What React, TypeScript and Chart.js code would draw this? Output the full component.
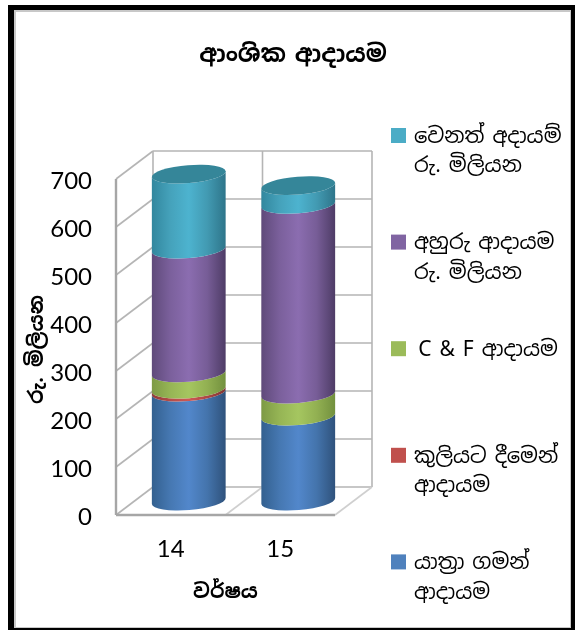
import React, { useEffect, useRef } from "react";
import { Chart, registerables } from "chart.js";

Chart.register(...registerables);

const chartTitle = "ආංශික ආදායම";
const yAxisTitle = "රු. මිලියන";
const xAxisTitle = "වර්ෂය";
const categories = ["14", "15"];
const travelIncome = [227, 177];
const hireIncome = [6, 0];
const cfIncome = [34, 46];
const bunkerIncome = [258, 395];
const otherIncome = [156, 39];
const travelLabel = ["යාත්‍රා ගමන්", "ආදායම"];
const hireLabel = ["කුලියට දීමෙන්", "ආදායම"];
const cfLabel = ["\u2009C & F ආදායම"];
const bunkerLabel = ["අහුරු ආදායම", "රු. මිලියන"];
const otherLabel = ["වෙනත් අදායම්", "රු. මිලියන"];

const SINHALA = '"Noto Sans Sinhala", "Noto Sans", "DejaVu Sans", sans-serif';
const NUM = 'Lato, "Open Sans", sans-serif';
const GRID = "#B5B5B5";
const DX = 37;
const DY = -28;
const MIDX = 18;
const MIDY = -14;
const ROT = -0.08;
const SEMI_MINOR = 9;
const WALL_SHIFT = -2.5;

const palette: Record<string, string[]> = {
  "#4F81BD": ["#33608F", "#4678B2", "#5287CB", "#4474AC", "#2F527C"],
  "#C0504D": ["#8F3B39", "#B54B48", "#CE5855", "#AD4845", "#7F3533"],
  "#9BBB59": ["#7D9A45", "#96B555", "#A5C660", "#92B052", "#72903E"],
  "#8064A2": ["#5F4A7A", "#7B609C", "#8B6DB0", "#775D97", "#4E3C66"],
  "#4BACC6": ["#32879E", "#45A2BB", "#4DB3CF", "#429AB2", "#2E758A"],
};

const cylinders = {
  id: "cylinders",
  beforeDatasetDraw() {
    return false;
  },
  beforeDatasetsDraw(chart: any) {
    const { ctx, chartArea: a, scales } = chart;
    const y = scales.y;
    const top = a.top + WALL_SHIFT;
    const bottom = a.bottom + WALL_SHIFT;
    ctx.save();
    ctx.strokeStyle = GRID;
    ctx.lineWidth = 1.6;
    const line = (x1: number, y1: number, x2: number, y2: number) => {
      ctx.beginPath();
      ctx.moveTo(x1, y1);
      ctx.lineTo(x2, y2);
      ctx.stroke();
    };
    y.ticks.forEach((t: any) => {
      const p = y.getPixelForValue(t.value) + WALL_SHIFT;
      line(a.left, p, a.left + DX, p + DY);
      line(a.left + DX, p + DY, a.right + DX, p + DY);
    });
    line(a.left + DX, top + DY, a.left + DX, bottom + DY);
    line(a.right + DX, top + DY, a.right + DX, bottom + DY);
    const step = (a.right - a.left) / categories.length;
    const mid = a.left + step;
    line(mid + DX, top + DY, mid + DX, bottom + DY);
    ctx.strokeStyle = "#CFCFCF";
    line(mid, bottom, mid + DX, bottom + DY);
    line(a.right, bottom, a.right + DX, bottom + DY);
    ctx.strokeStyle = "#A6A6A6";
    ctx.lineWidth = 2.4;
    line(a.left, top, a.left, bottom);
    line(a.left, bottom, a.right, bottom);
    ctx.restore();
  },
  afterDatasetsDraw(chart: any) {
    const { ctx } = chart;
    const count = chart.data.datasets.length;
    for (let i = 0; i < count; i++) {
      const meta = chart.getDatasetMeta(i);
      const ds = chart.data.datasets[i];
      const colors = palette[ds.backgroundColor];
      meta.data.forEach((bar: any, idx: number) => {
        const value = ds.data[idx];
        if (!value) return;
        const a = bar.width / 2;
        const cx = bar.x + MIDX;
        const top = bar.y + MIDY + WALL_SHIFT;
        const bot = bar.base + MIDY + WALL_SHIFT;
        const ex = a * Math.cos(ROT);
        const ey = a * Math.sin(ROT);
        const g = ctx.createLinearGradient(cx - ex, 0, cx + ex, 0);
        colors.forEach((c: string, k: number) => g.addColorStop(k / 4, c));
        ctx.save();
        ctx.fillStyle = g;
        ctx.beginPath();
        ctx.ellipse(cx, top, a, SEMI_MINOR, ROT, Math.PI, 0, true);
        ctx.lineTo(cx + ex, bot + ey);
        ctx.ellipse(cx, bot, a, SEMI_MINOR, ROT, 0, Math.PI, false);
        ctx.closePath();
        ctx.fill();
        const topMost = chart.data.datasets.slice(i + 1).every((d: any) => !d.data[idx]);
        if (topMost) {
          ctx.fillStyle = "#358699";
          ctx.beginPath();
          ctx.ellipse(cx, top, a, SEMI_MINOR, ROT, 0, Math.PI * 2);
          ctx.fill();
        }
        ctx.restore();
      });
    }
  },
};

const textBlocks = {
  id: "textBlocks",
  afterDraw(chart: any) {
    const { ctx } = chart;
    ctx.save();
    ctx.fillStyle = "#000";
    ctx.textBaseline = "middle";
    ctx.textAlign = "center";
    ctx.font = `bold 24px ${SINHALA}`;
    ctx.wordSpacing = "-3px";
    ctx.fillText(chartTitle, 293, 55);
    ctx.textAlign = "left";
    ctx.wordSpacing = "-2.5px";
    const n = chart.data.datasets.length;
    const top = 128;
    const gap = 106.6;
    for (let i = n - 1; i >= 0; i--) {
      const ds = chart.data.datasets[i];
      const yy = top + gap * (n - 1 - i);
      ctx.fillStyle = ds.backgroundColor;
      ctx.fillRect(391, yy, 15, 15);
      ctx.fillStyle = "#000";
      ctx.font = `21px ${SINHALA}`;
      ds.labelLines.forEach((l: string, k: number) => {
        ctx.fillText(l, 414, yy + 9 + k * 29.5);
      });
    }
    ctx.restore();
  },
};

const frame = {
  id: "frame",
  beforeDraw(chart: any) {
    const { ctx, width, height } = chart;
    ctx.save();
    ctx.fillStyle = "#fff";
    ctx.fillRect(0, 0, width, height);
    ctx.restore();
  },
  afterDraw(chart: any) {
    const { ctx, width, height } = chart;
    ctx.save();
    ctx.fillStyle = "#C8C8C8";
    ctx.fillRect(14, 10, width - 14 - 3, 2);
    ctx.fillRect(14, 10, 2, height - 10 - 2);
    ctx.fillRect(width - 5, 10, 1, height - 12);
    ctx.fillRect(14, height - 3, width - 18, 1);
    ctx.fillStyle = "#000";
    ctx.fillRect(8, 5, width - 8, 5);
    ctx.fillRect(8, 5, 6, height - 5);
    ctx.fillRect(width - 4, 5, 4, height - 5);
    ctx.fillRect(8, height - 2, width - 8, 2);
    ctx.restore();
  },
};

export default function App() {
  const ref = useRef<HTMLCanvasElement>(null);
  useEffect(() => {
    document.body.style.margin = "0";
    const make = (label: string[], data: number[], color: string) => ({
      label: label.join(" "),
      labelLines: label,
      data,
      backgroundColor: color,
      stack: "s",
      barPercentage: 0.676,
      categoryPercentage: 1,
    });
    const chart = new Chart(ref.current as HTMLCanvasElement, {
      type: "bar",
      data: {
        labels: categories,
        datasets: [
          make(travelLabel, travelIncome, "#4F81BD"),
          make(hireLabel, hireIncome, "#C0504D"),
          make(cfLabel, cfIncome, "#9BBB59"),
          make(bunkerLabel, bunkerIncome, "#8064A2"),
          make(otherLabel, otherIncome, "#4BACC6"),
        ] as any,
      },
      options: {
        responsive: false,
        animation: false,
        layout: { padding: { top: 181.5, right: 240, left: 0, bottom: 0 } },
        plugins: { legend: { display: false }, title: { display: false }, tooltip: { enabled: false } },
        scales: {
          x: {
            stacked: true,
            grid: { display: false, drawTicks: false },
            border: { display: false },
            afterFit: (s: any) => {
              s.height = 112.5;
            },
            ticks: { color: "#000", font: { family: NUM, size: 24 }, padding: 17, maxRotation: 0 },
            title: {
              display: true,
              text: xAxisTitle,
              color: "#000",
              padding: { top: 4, bottom: 26 },
              font: { family: SINHALA, size: 20, weight: "bold" },
            },
          },
          y: {
            stacked: true,
            min: 0,
            max: 700,
            grid: { display: false, drawTicks: false },
            border: { display: false },
            afterFit: (s: any) => {
              s.width = 116;
            },
            ticks: { stepSize: 100, color: "#000", font: { family: NUM, size: 24 }, padding: 24 },
            title: {
              display: true,
              text: yAxisTitle,
              color: "#000",
              padding: { top: 25, bottom: 4 },
              font: { family: SINHALA, size: 20, weight: "bold" },
            },
          },
        },
      },
      plugins: [frame, cylinders, textBlocks],
    } as any);
    return () => chart.destroy();
  }, []);
  return <canvas ref={ref} width={575} height={630} style={{ display: "block" }} />;
}
